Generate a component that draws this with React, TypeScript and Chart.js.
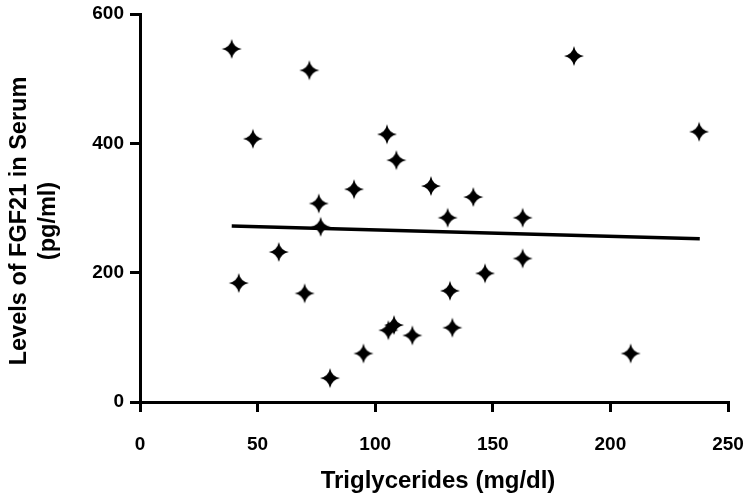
import React, { useEffect, useRef } from "react";
import { Chart, registerables } from "chart.js";

Chart.register(...registerables);

// Data
const triglycerides = [
  39, 72, 184.5, 48, 105, 109, 237.7, 91, 76, 123.7, 141.7, 130.8, 162.7, 76.8,
  59, 162.7, 42, 70, 146.7, 131.8, 108, 105.6, 132.8, 115.8, 95, 80.8, 208.6,
];
const fgf21 = [
  546, 513, 535, 407, 414, 374, 418, 329, 307, 334, 317, 285, 285, 271,
  232, 222, 184, 168, 199, 172, 119, 111, 115, 103, 75, 37, 75,
];
const fitX = [39, 238];
const fitY = [272, 252.5];
const xTicks = [0, 50, 100, 150, 200, 250];
const yTicks = [0, 200, 400, 600];
const xTitle = "Triglycerides (mg/dl)";
const yTitleLines = ["Levels of FGF21 in Serum", "(pg/ml)"];

const FONT = "'Liberation Sans', Arial, Helvetica, sans-serif";

function makeStar(): HTMLCanvasElement {
  const s = 24;
  const c = document.createElement("canvas");
  c.width = s;
  c.height = s;
  const ctx = c.getContext("2d")!;
  const R = 10;
  const k = 1.6;
  ctx.translate(s / 2, s / 2);
  ctx.beginPath();
  ctx.moveTo(0, -R);
  ctx.quadraticCurveTo(k, -k, R, 0);
  ctx.quadraticCurveTo(k, k, 0, R);
  ctx.quadraticCurveTo(-k, k, -R, 0);
  ctx.quadraticCurveTo(-k, -k, 0, -R);
  ctx.closePath();
  ctx.fillStyle = "#000";
  ctx.fill();
  return c;
}

const titlesPlugin = {
  id: "customTitles",
  afterDraw(chart: any) {
    const ctx = chart.ctx as CanvasRenderingContext2D;
    ctx.save();
    ctx.fillStyle = "#000";
    ctx.font = `bold 24px ${FONT}`;
    ctx.textAlign = "center";
    ctx.textBaseline = "alphabetic";
    ctx.fillText(xTitle, 438, 488);
    ctx.font = `bold 23.5px ${FONT}`;
    ctx.translate(0, 221);
    ctx.rotate(-Math.PI / 2);
    ctx.fillText(yTitleLines[0], 0, 26);
    ctx.fillText(yTitleLines[1], 0, 55);
    ctx.restore();
  },
};

export default function App() {
  const ref = useRef<HTMLCanvasElement | null>(null);

  useEffect(() => {
    if (!ref.current) return;
    const star = makeStar();
    const chart = new Chart(ref.current, {
      type: "scatter",
      data: {
        datasets: [
          {
            label: "FGF21",
            data: triglycerides.map((x, i) => ({ x, y: fgf21[i] })),
            pointStyle: star as any,
            pointRadius: 10,
            backgroundColor: "#000",
            borderColor: "#000",
          },
          {
            label: "fit",
            type: "line" as any,
            data: fitX.map((x, i) => ({ x, y: fitY[i] })),
            showLine: true,
            borderColor: "#000",
            borderWidth: 3.5,
            pointRadius: 0,
            fill: false,
          } as any,
        ],
      },
      options: {
        animation: false,
        responsive: true,
        maintainAspectRatio: false,
        layout: { padding: { top: 14, right: 22, left: 0, bottom: 0 } },
        plugins: { legend: { display: false }, tooltip: { enabled: false } },
        scales: {
          x: {
            type: "linear",
            min: 0,
            max: 250,
            afterBuildTicks: (s: any) => {
              s.ticks = xTicks.map((v) => ({ value: v }));
            },
            afterFit: (s: any) => {
              s.height = 97;
              s.paddingLeft = 0;
              s.paddingRight = 0;
            },
            grid: {
              display: true,
              drawOnChartArea: false,
              drawTicks: true,
              tickLength: 10,
              color: "#000",
              lineWidth: 3,
            },
            border: { display: true, color: "#000", width: 3 },
            ticks: {
              color: "#000",
              font: { family: FONT, size: 19, weight: "bold" },
              padding: 21,
              maxRotation: 0,
            },
          },
          y: {
            type: "linear",
            min: 0,
            max: 600,
            afterBuildTicks: (s: any) => {
              s.ticks = yTicks.map((v) => ({ value: v }));
            },
            afterFit: (s: any) => {
              s.width = 140;
              s.paddingTop = 0;
              s.paddingBottom = 0;
            },
            grid: {
              display: true,
              drawOnChartArea: false,
              drawTicks: true,
              tickLength: 10,
              color: "#000",
              lineWidth: 3,
            },
            border: { display: true, color: "#000", width: 3 },
            ticks: {
              color: "#000",
              font: { family: FONT, size: 19, weight: "bold" },
              padding: 6,
            },
          },
        },
      },
      plugins: [titlesPlugin],
    });
    return () => chart.destroy();
  }, []);

  return (
    <div
      style={{
        position: "absolute",
        left: 0,
        top: 0,
        width: 750,
        height: 499,
        background: "#fff",
      }}
    >
      <canvas ref={ref} />
    </div>
  );
}
